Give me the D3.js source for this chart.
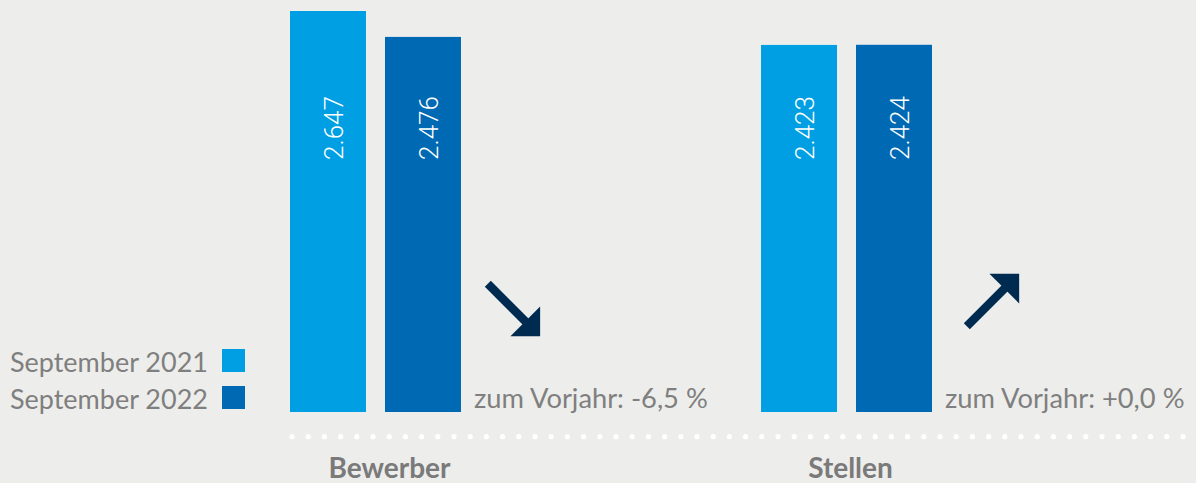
<!DOCTYPE html>
<html>
<head>
<meta charset="utf-8">
<script src="https://cdn.jsdelivr.net/npm/d3@7"></script>
<style>
  html, body { margin: 0; padding: 0; background: #ededeb; }
  svg { display: block; }
</style>
</head>
<body>
<svg id="chart" width="1196" height="483"></svg>
<script>
// ---- data ----
const categories = ["Bewerber", "Stellen"];
const seriesNames = ["September 2021", "September 2022"];
const values2021 = [2647, 2423];
const values2022 = [2476, 2424];
const seriesColors = ["#009fe3", "#0069b4"];

// ---- setup ----
const W = 1196, H = 483;
const svg = d3.select("#chart");
svg.append("rect").attr("width", W).attr("height", H).attr("fill", "#ededeb");

const de = d3.formatLocale({ decimal: ",", thousands: ".", grouping: [3], currency: ["", " €"] });
const fmtVal = de.format(",");
const fmtPct = de.format("+.1f");

const rows = categories.map((c, i) => ({ cat: c, vals: [values2021[i], values2022[i]] }));

const x0 = d3.scaleBand().domain(categories).range([290, 932]).paddingInner(0.637).paddingOuter(0);
const x1 = d3.scaleBand().domain(seriesNames).range([0, x0.bandwidth()]).paddingInner(0.2).paddingOuter(0);
const y = d3.scaleLinear().domain([0, d3.max(values2021.concat(values2022))]).range([412, 11]);

const textGray = "#7f7f7f";
const fontMain = "'Source Sans Pro', Lato, 'Noto Sans', sans-serif";

// dotted baseline
const dotsG = svg.append("g");
const dotXs = d3.range(292, 1186, 16.2);
dotsG.selectAll("circle").data(dotXs).join("circle")
  .attr("cx", d => d).attr("cy", 436.7).attr("r", 2.6).attr("fill", "#ffffff");

// groups
const g = svg.selectAll("g.grp").data(rows).join("g")
  .attr("class", "grp")
  .attr("transform", d => `translate(${x0(d.cat)},0)`);

g.selectAll("rect").data(d => d.vals.map((v, j) => ({ v, s: seriesNames[j], j }))).join("rect")
  .attr("x", d => x1(d.s))
  .attr("y", d => y(d.v))
  .attr("width", x1.bandwidth())
  .attr("height", d => y(0) - y(d.v))
  .attr("fill", d => seriesColors[d.j]);

g.selectAll("text.val").data(d => d.vals.map((v, j) => ({ v, s: seriesNames[j], j }))).join("text")
  .attr("class", "val")
  .attr("transform", d => `translate(${x1(d.s) + x1.bandwidth() / 2 + 15},160) rotate(-90)`)
  .attr("text-anchor", "start")
  .attr("fill", "#ffffff")
  .style("font-family", "Roboto, sans-serif")
  .style("font-weight", 300)
  .style("font-size", "26px")
  .text(d => fmtVal(d.v));

// change annotation
g.append("text")
  .attr("x", x0.bandwidth() + 13)
  .attr("y", 408)
  .attr("fill", textGray)
  .style("font-family", fontMain)
  .style("font-size", "27.3px")
  .text(d => {
    const p = (d.vals[1] - d.vals[0]) / d.vals[0] * 100;
    return "zum Vorjahr: " + fmtPct(p).replace("−", "-") + " %";
  });

// arrows
const arrowColor = "#002b50";
g.each(function(d) {
  const up = d.vals[1] >= d.vals[0];
  const cx = x0.bandwidth() + (up ? 61 : 53);
  const cy = up ? 300 : 310;
  const a = d3.select(this).append("g")
    .attr("transform", `translate(${cx},${cy}) rotate(${up ? -45 : 45})`);
  a.append("line").attr("x1", -37).attr("y1", 0).attr("x2", 22).attr("y2", 0)
    .attr("stroke", arrowColor).attr("stroke-width", 8.5);
  a.append("path")
    .attr("d", "M 37 0 L 16 -21 L 16 21 Z")
    .attr("fill", arrowColor);
});

// category labels
g.append("text")
  .attr("x", (d, i) => x0.bandwidth() / 2 + (i === 0 ? 14 : 4))
  .attr("y", 478)
  .attr("text-anchor", "middle")
  .attr("fill", "#7a7a7a")
  .style("font-family", fontMain)
  .style("font-weight", 700)
  .style("font-size", "28px")
  .text(d => d.cat);

// legend
const leg = svg.append("g").selectAll("g").data(seriesNames).join("g")
  .attr("transform", (d, i) => `translate(0,${349 + i * 37})`);
leg.append("rect").attr("x", 222).attr("y", 0).attr("width", 23).attr("height", 23)
  .attr("fill", (d, i) => seriesColors[i]);
leg.append("text").attr("x", 208).attr("y", 22.5).attr("text-anchor", "end")
  .attr("fill", textGray)
  .style("font-family", fontMain)
  .style("font-size", "27px")
  .text(d => d);
</script>
</body>
</html>
